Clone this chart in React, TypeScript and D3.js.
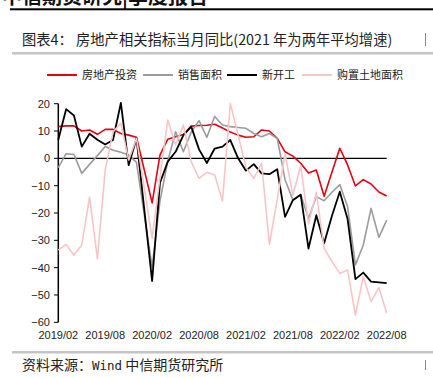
import React from "react";
import * as d3 from "d3";

const months = [
  "2019/02","2019/03","2019/04","2019/05","2019/06","2019/07","2019/08","2019/09","2019/10","2019/11","2019/12",
  "2020/01","2020/02","2020/03","2020/04","2020/05","2020/06","2020/07","2020/08","2020/09","2020/10","2020/11","2020/12",
  "2021/01","2021/02","2021/03","2021/04","2021/05","2021/06","2021/07","2021/08","2021/09","2021/10","2021/11","2021/12",
  "2022/01","2022/02","2022/03","2022/04","2022/05","2022/06","2022/07","2022/08",
];
const tickLabels = ["2019/02","2019/08","2020/02","2020/08","2021/02","2021/08","2022/02","2022/08"];
const yTicks = [20, 10, 0, -10, -20, -30, -40, -50, -60];

const investment = [11.6, 11.9, 11.9, 10.0, 10.4, 8.8, 10.6, 10.6, 9.1, 8.5, 7.7, -4.3, -16.3, 1.2, 7.0, 7.9, 8.7, 11.8, 12.0, 12.1, 12.5, 11.1, 9.6, 8.5, 7.7, 7.9, 10.4, 10.0, 7.3, 2.4, 0.8, -1.8, -5.4, -4.3, -13.9, -5.0, 3.7, -2.4, -10.1, -7.8, -9.4, -12.3, -13.8];
const salesArea = [-3.4, 1.7, 1.4, -5.5, -2.2, 1.0, 4.3, 3.0, 2.2, 1.2, -1.5, -20.7, -39.9, -15.7, -1.0, 9.7, 2.4, 9.6, 13.8, 7.7, 15.3, 12.2, 11.6, 11.3, 11.0, 9.1, 7.9, 9.1, 7.3, -7.8, -15.2, -13.2, -22.0, -14.0, -15.5, -12.4, -9.6, -17.7, -39.0, -31.8, -18.3, -28.9, -22.6];
const newStarts = [6.8, 18.0, 15.7, 4.3, 9.0, 6.8, 5.1, 6.7, 20.3, -2.5, 7.3, -18.8, -44.9, -9.0, -1.2, 2.4, 8.5, 11.6, 3.3, -1.7, 3.6, 4.3, 6.7, 0.0, -4.5, -2.1, -5.5, -5.8, -4.0, -21.4, -15.3, -13.3, -33.0, -20.8, -31.1, -21.0, -12.2, -22.2, -44.2, -41.8, -45.1, -45.4, -45.7];
const landArea = [-33.6, -31.5, -35.4, -31.7, -14.2, -36.7, -4.3, 9.7, 12.8, -0.6, 7.3, -11.0, -29.3, -7.0, 14.0, 4.9, 12.2, -1.2, -7.3, -5.1, -6.1, -15.6, 20.1, 8.5, -3.4, -7.3, -1.8, -31.4, -15.0, 1.5, -13.4, -2.7, -24.0, -12.5, -32.9, -37.8, -42.1, -40.9, -57.4, -43.3, -52.4, -47.3, -56.7];

const seriesNames = ["房地产投资", "销售面积", "新开工", "购置土地面积"];
const seriesData = [investment, salesArea, newStarts, landArea];
const seriesColors = ["#e60012", "#9b9b9b", "#000000", "#f6c6c6"];
const seriesWidths = [1.6, 1.6, 1.8, 1.6];
const drawOrder = [0, 1, 2, 3];

const W = 433;
const H = 378;
const cjk = "'Noto Sans CJK SC', 'Noto Sans', sans-serif";
const latin = "'Liberation Sans', Arial, sans-serif";

export default function App() {
  const x = d3.scalePoint<string>().domain(months).range([58.3, 386.7]);
  const y = d3.scaleLinear().domain([-60, 20]).range([322.3, 103.7]);
  const line = d3
    .line<number>()
    .x((_, i) => x(months[i]) as number)
    .y((d) => y(d));

  const legendX = [47, 143, 227, 302];

  return (
    <svg
      width={W}
      height={H}
      viewBox={`0 0 ${W} ${H}`}
      style={{ position: "absolute", left: 0, top: 0, background: "#fff" }}
    >
      <rect x={0} y={0} width={W} height={H} fill="#fff" />
      {/* cropped header */}
      <text x={2} y={4} fontFamily={cjk} fontWeight={700} fontSize={20} fill="#111">
        中信期货研究|季度报告
      </text>
      <rect x={10} y={8.3} width={W - 10} height={2} fill="#000" />

      {/* title */}
      <text x={22} y={45} fontFamily={cjk} fontSize={14.3} fill="#222">
        图表4：{"\u00a0"}房地产相关指标当月同比(2021 年为两年平均增速)
      </text>
      <line x1={425.5} x2={425.5} y1={33} y2={46} stroke="#888" strokeWidth={1} />
      <rect x={12} y={52} width={W - 12} height={2.5} fill="#c4c4c4" />

      {/* legend */}
      {seriesNames.map((name, k) => (
        <g key={name}>
          <line
            x1={legendX[k]}
            x2={legendX[k] + 30}
            y1={75}
            y2={75}
            stroke={seriesColors[k]}
            strokeWidth={2}
          />
          <text x={legendX[k] + 35} y={79} fontFamily={cjk} fontSize={11} fill="#222">
            {name}
          </text>
        </g>
      ))}

      {/* y axis */}
      <line x1={58.3} x2={58.3} y1={y(20)} y2={y(-60)} stroke="#000" strokeWidth={1.5} />
      {yTicks.map((t) => (
        <g key={t}>
          <line x1={54} x2={58.3} y1={y(t)} y2={y(t)} stroke="#000" strokeWidth={1} />
          <text
            x={50}
            y={y(t)}
            dy="0.35em"
            textAnchor="end"
            fontFamily={latin}
            fontSize={11}
            fill="#222"
          >
            {t < 0 ? "\u2212" + Math.abs(t) : String(t)}
          </text>
        </g>
      ))}

      {/* zero line */}
      <line x1={58.3} x2={386.7} y1={y(0)} y2={y(0)} stroke="#000" strokeWidth={1.2} />

      {/* x labels */}
      {tickLabels.map((t) => (
        <text
          key={t}
          x={x(t) as number}
          y={338.5}
          textAnchor="middle"
          fontFamily={latin}
          fontSize={11}
          fill="#222"
        >
          {t}
        </text>
      ))}

      {/* series */}
      {drawOrder.map((k) => (
        <path
          key={seriesNames[k]}
          d={line(seriesData[k]) || ""}
          fill="none"
          stroke={seriesColors[k]}
          strokeWidth={seriesWidths[k]}
          strokeLinejoin="round"
        />
      ))}

      {/* footer */}
      <rect x={12} y={351} width={W - 12} height={2.5} fill="#c4c4c4" />
      <text x={22} y={370} fontFamily={cjk} fontSize={14} fill="#222">
        资料来源：<tspan fontFamily="'DejaVu Sans Mono', monospace" fontSize={12.5}>Wind</tspan>{"\u00a0"}中信期货研究所
      </text>
      <line x1={425.5} x2={425.5} y1={360} y2={370} stroke="#888" strokeWidth={1} />
    </svg>
  );
}
